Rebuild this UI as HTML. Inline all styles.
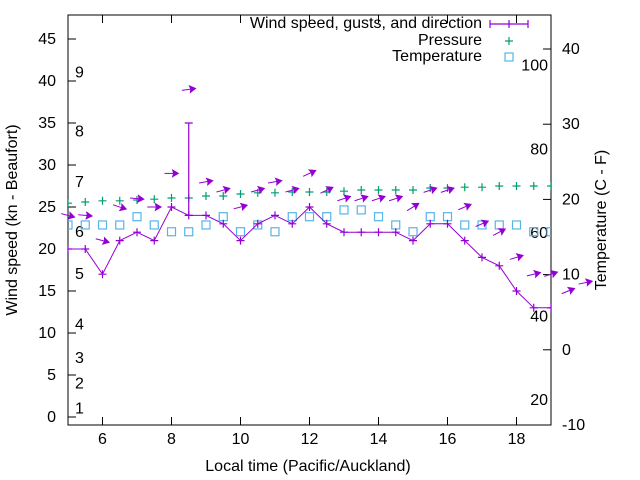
<!DOCTYPE html>
<html><head><meta charset="utf-8"><style>
html,body{margin:0;padding:0;background:#fff}
svg{display:block;font-family:"Liberation Sans",sans-serif}
</style></head><body>
<svg id="c" width="640" height="480" viewBox="0 0 640 480" xmlns="http://www.w3.org/2000/svg">
<defs><clipPath id="clip"><rect x="68" y="15" width="483" height="410"/></clipPath></defs>
<g id="g"></g>
</svg>
<script>
const hours=[5,5.5,6,6.5,7,7.5,8,8.5,9,9.5,10,10.5,11,11.5,12,12.5,13,13.5,14,14.5,15,15.5,16,16.5,17,17.5,18,18.5,19,19.5,20];
const windKn=[20,20,17,21,22,21,25,24,24,23,21,23,24,23,25,23,22,22,22,22,21,23,23,21,19,18,15,13,13,11,12];
const gustKn=[20,20,17,21,22,21,25,35,24,23,21,23,24,23,25,23,22,22,22,22,21,23,23,21,19,18,15,13,13,11,12];
const dirDeg=[15,5,15,18,5,0,0,-8,-10,-15,-15,-15,-10,-15,-25,-25,-18,-18,-18,-18,-32,-18,-18,-23,-23,-28,-17,-14,-18,-22,-12];
const pressHpa=[1019.2,1019.5,1019.8,1019.8,1020,1020.2,1020.5,1020.5,1021,1021,1021.5,1021.8,1021.8,1022,1022,1022,1022.2,1022.5,1022.5,1022.5,1022.5,1023,1023,1023.2,1023.2,1023.5,1023.5,1023.5,1023.5];
const tempC=[16.6,16.6,16.6,16.6,17.7,16.6,15.7,15.7,16.6,17.7,15.7,16.6,15.7,17.7,17.7,17.7,18.6,18.6,17.7,16.6,15.7,17.7,17.7,16.6,16.6,16.6,16.6,15.7,15.7];
const leftTicks=[0,5,10,15,20,25,30,35,40,45];
const rightTicks=[-10,0,10,20,30,40];
const xTicks=[6,8,10,12,14,16,18];
const beaufortKn=[1,4,7,11,17,22,28,34,41];
const beaufortLbl=["1","2","3","4","5","6","7","8","9"];
const fahr=[20,40,60,80,100];

const L=68,R=551,T=15,B=425;
const X=h=>L+(h-5)*(R-L)/14;
const Y=v=>417-v*8.4;
const YC=c=>425-(c+10)*7.52;
const YP=p=>200-(p-1020)*4;
const ns="http://www.w3.org/2000/svg";
const g=document.getElementById('g');
function mk(tag,at,parent){const e=document.createElementNS(ns,tag);for(const k in at)e.setAttribute(k,at[k]);(parent||g).appendChild(e);return e;}
function txt(s,x,y,anchor,size){const t=mk('text',{x:x,y:y,'text-anchor':anchor,'font-size':size||16,fill:'#000'});t.textContent=s;return t;}

let e=mk('rect',{x:L,y:T,width:R-L,height:B-T,fill:'none',stroke:'#000','stroke-width':1});

leftTicks.forEach(v=>{const y=Y(v);
 let t=mk('line',{x1:L,x2:L+8,y1:y,y2:y,stroke:'#000'});
 let l=txt(String(v),56,y+5,'end');});
rightTicks.forEach(v=>{const y=YC(v);
 let t=mk('line',{x1:R-8,x2:R,y1:y,y2:y,stroke:'#000'});
 let l=txt(String(v),562,y+5,'start');});
xTicks.forEach(v=>{const x=X(v);
 let t=mk('line',{x1:x,x2:x,y1:B,y2:B-8,stroke:'#000'});
 let t2=mk('line',{x1:x,x2:x,y1:T,y2:T+8,stroke:'#000'});
 let l=txt(String(v),x,444,'middle');});
beaufortKn.forEach((v,i)=>{let l=txt(beaufortLbl[i],75,Y(v)+5,'start');});
fahr.forEach(f=>{let l=txt(String(f),548,YC((f-32)*5/9)+5,'end');});

let a=txt('Wind speed (kn - Beaufort)',0,0,'middle');a.setAttribute('transform','translate(17,220) rotate(-90)');

a=txt('Temperature (C - F)',0,0,'middle');a.setAttribute('transform','translate(606,220) rotate(-90)');

a=txt('Local time (Pacific/Auckland)',308,471,'middle');

const W='#9400d3',P='#009e73',C='#56b4e9';
const cg=mk('g',{'clip-path':'url(#clip)'});

pressHpa.forEach((p,i)=>{const x=X(hours[i]),y=YP(p);
 const m=mk('path',{d:`M${x-4},${y}h8M${x},${y-4}v8`,stroke:P,'stroke-width':1.2,fill:'none'},cg);
 });
tempC.forEach((c,i)=>{const x=X(hours[i]),y=YC(c);
 const m=mk('rect',{x:x-4,y:y-4,width:8,height:8,stroke:C,'stroke-width':1.2,fill:'none'},cg);
 });
const pl=mk('polyline',{points:windKn.map((w,i)=>X(hours[i])+','+Y(w)).join(' '),fill:'none',stroke:W,'stroke-width':1},cg);

windKn.forEach((w,i)=>{const x=X(hours[i]),y=Y(w);
 const m=mk('path',{d:`M${x-4},${y}h8M${x},${y-4}v8`,stroke:W,'stroke-width':1.2,fill:'none'},cg);
 
 if(gustKn[i]>w){const yg=Y(gustKn[i]);
  const b=mk('path',{d:`M${x},${y}V${yg}M${x-4},${yg}h8M${x-4},${y}h8`,stroke:W,'stroke-width':1.2,fill:'none'},cg);
  }
});
windKn.forEach((w,i)=>{const x=X(hours[i]),y=Y(gustKn[i]+4);
 const ag=mk('g',{transform:`translate(${x},${y}) rotate(${dirDeg[i]})`});
 
 mk('line',{x1:-7,y1:0,x2:3,y2:0,stroke:W,'stroke-width':1},ag);
 mk('path',{d:'M7,0L1,-3.5L2,0L1,3.5Z',fill:W,stroke:W,'stroke-width':0.8},ag);
});
let lt=txt('Wind speed, gusts, and direction',482,28,'end');
let ls=mk('path',{d:'M490,24H528M490,20v8M528,20v8M509,20v8',stroke:W,'stroke-width':1.2,fill:'none'});

lt=txt('Pressure',482,45,'end');
ls=mk('path',{d:'M505,41h8M509,37v8',stroke:P,'stroke-width':1.2,fill:'none'});

lt=txt('Temperature',482,61,'end');
ls=mk('rect',{x:505,y:53,width:8,height:8,stroke:C,'stroke-width':1.2,fill:'none'});

</script>
</body></html>
